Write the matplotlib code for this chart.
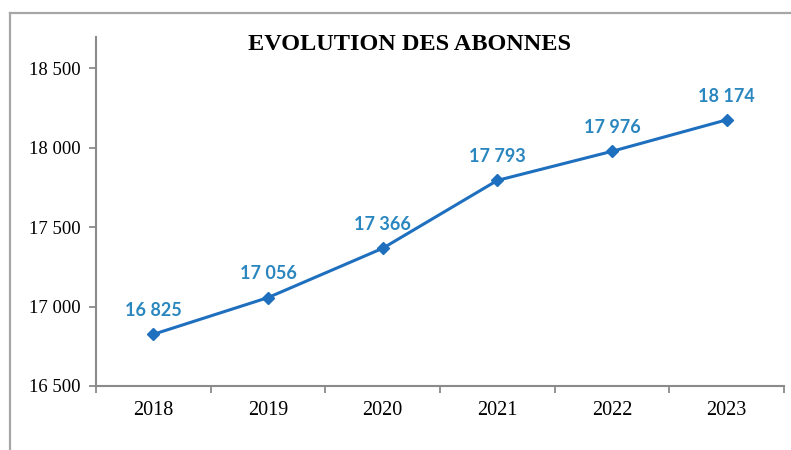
import matplotlib
matplotlib.use("Agg")
import matplotlib.pyplot as plt
from matplotlib.lines import Line2D

years = ["2018", "2019", "2020", "2021", "2022", "2023"]
abonnes = [16825, 17056, 17366, 17793, 17976, 18174]
yticks = [16500, 17000, 17500, 18000, 18500]
ytick_labels = ["16 500", "17 000", "17 500", "18 000", "18 500"]
title = "EVOLUTION DES ABONNES"

LINE = "#1f6fbf"
LABEL = "#2a86bf"
AXIS = "#8a8a8a"
W, H = 791, 450

fig = plt.figure(figsize=(W / 100, H / 100), dpi=100)
ax = fig.add_axes([96 / W, 1 - 386 / H, (784 - 96) / W, (386 - 37) / H])

x = list(range(len(years)))
ax.plot(x, abonnes, color=LINE, lw=2.2, marker="D", ms=6.5, zorder=3)
for xi, v in zip(x, abonnes):
    lab = f"{v:,}".replace(",", " ")
    ax.annotate(lab, (xi, v), xytext=(0, 11), textcoords="offset points",
                ha="center", va="bottom", color=LABEL, fontsize=13,
                fontweight="bold", family=["Lato", "DejaVu Sans"])

ax.set_xlim(-0.5, len(years) - 0.5)
ax.set_ylim(16500, 18695)
ax.set_yticks(yticks)
ax.set_yticklabels(ytick_labels, family="Liberation Serif", fontsize=13.5)
ax.set_xticks(x)
ax.set_xticklabels(years, family="Liberation Serif", fontsize=14.5)
ax.tick_params(axis="x", length=0, pad=11)
ax.set_xticks([i - 0.5 for i in range(len(years) + 1)], minor=True)
ax.tick_params(axis="x", which="minor", length=5, width=1.3, color=AXIS, direction="out")
ax.tick_params(axis="y", length=5, width=1.3, color=AXIS, direction="out", pad=6)

for s in ("top", "right"):
    ax.spines[s].set_visible(False)
for s in ("left", "bottom"):
    ax.spines[s].set_color(AXIS)
    ax.spines[s].set_linewidth(1.5)

fig.text(410 / W, 1 - 44 / H, title, ha="center", va="center",
         family="Liberation Serif", fontweight="bold", fontsize=17.5)

# outer frame (only top and left edges visible)
fig.add_artist(Line2D([10 / W, 1], [1 - 13 / H, 1 - 13 / H], color="#a6a6a6", lw=1.6,
                      transform=fig.transFigure))
fig.add_artist(Line2D([10 / W, 10 / W], [1 - 13 / H, 0], color="#a6a6a6", lw=1.6,
                      transform=fig.transFigure))

fig.savefig("out.png", dpi=100)
